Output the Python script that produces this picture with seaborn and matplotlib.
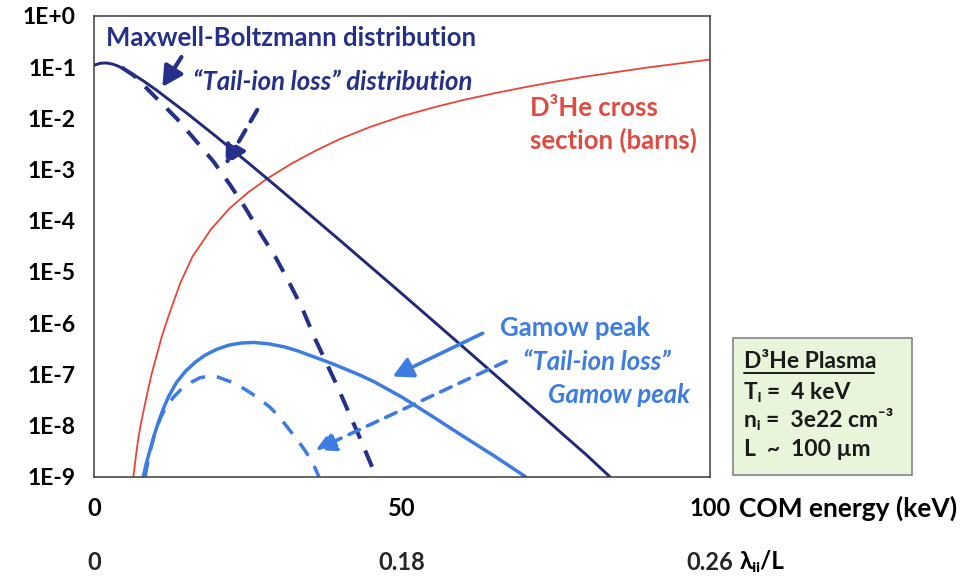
import matplotlib
matplotlib.use("Agg")
import matplotlib.pyplot as plt
from matplotlib.patches import Rectangle
from matplotlib.lines import Line2D
from matplotlib.ticker import FixedLocator, NullLocator
import seaborn as sns

# ---- curves: centre-of-mass energy (keV) and value -------------------------
mb_energy = [0.1, 1, 2, 3, 4, 6, 8, 10, 15, 20, 25, 30, 40, 50, 60, 70, 80, 83.7]
mb_value = [0.110, 0.119, 0.121, 0.115, 0.104, 0.0771, 0.0540, 0.0366, 0.0128,
            4.25e-3, 1.36e-3, 4.27e-4, 4.05e-5, 3.72e-6, 3.34e-7, 2.96e-8,
            2.60e-9, 1.0e-9]

tail_energy = [4.5, 5, 6.5, 8.8, 11, 13.4, 16.4, 19.4, 22.1, 24.6, 27, 29.4,
               31.6, 33.8, 35.7, 39.5, 43.3, 45.8]
tail_value = [0.099, 0.090, 0.068, 0.036, 0.0195, 0.0100, 3.8e-3, 1.43e-3,
              5.0e-4, 1.75e-4, 5.7e-5, 2.0e-5, 6.5e-6, 1.95e-6, 5.5e-7, 5.8e-8,
              5.2e-9, 1.0e-9]

xsec_energy = [6.4, 6.8, 7.2, 7.6, 8.5, 9.3, 10.2, 11, 12, 14, 16, 19, 22, 25,
               28, 32, 36, 40, 45, 50, 55, 60, 65, 70, 75, 80, 90, 100]
xsec_value = [1.0e-9, 2.5e-9, 5.6e-9, 1.05e-8, 3.5e-8, 9.5e-8, 2.4e-7, 5.4e-7,
              1.26e-6, 6.0e-6, 2.0e-5, 6.8e-5, 1.74e-4, 3.55e-4, 6.5e-4,
              1.29e-3, 2.34e-3, 3.98e-3, 6.9e-3, 1.10e-2, 1.62e-2, 2.29e-2,
              3.09e-2, 4.07e-2, 5.25e-2, 6.6e-2, 9.9e-2, 0.141]

gamow_energy = [8.0, 8.5, 9.1, 9.7, 10.4, 11.2, 12.1, 13.4, 14.8, 16.4, 18, 20,
                22, 24, 26, 28.5, 31, 33.2, 35, 37, 39, 41, 43.2, 45.5, 50, 55,
                60, 65, 70]
gamow_value = [1.0e-9, 1.82e-9, 3.31e-9, 6.03e-9, 1.10e-8, 2.04e-8, 3.63e-8,
               6.92e-8, 1.12e-7, 1.70e-7, 2.34e-7, 3.09e-7, 3.72e-7, 4.07e-7,
               4.17e-7, 3.89e-7, 3.39e-7, 2.82e-7, 2.34e-7, 1.91e-7, 1.55e-7,
               1.23e-7, 9.55e-8, 7.08e-8, 3.55e-8, 1.48e-8, 6.03e-9, 2.51e-9,
               1.0e-9]

tail_gamow_energy = [8.3, 9.0, 9.9, 10.8, 11.8, 12.9, 14.2, 15.9, 17.2, 18.6,
                     20.2, 22.2, 24.3, 26.5, 28.6, 30.2, 31.6, 33.0, 34.3, 35.5,
                     36.5]
tail_gamow_value = [1.0e-9, 2.82e-9, 7.08e-9, 1.41e-8, 2.40e-8, 3.55e-8,
                    5.13e-8, 7.08e-8, 8.51e-8, 9.12e-8, 8.71e-8, 7.08e-8,
                    5.25e-8, 3.55e-8, 2.24e-8, 1.41e-8, 8.51e-9, 5.25e-9,
                    3.16e-9, 1.86e-9, 1.0e-9]

# ---- axis ticks -------------------------------------------------------------
y_ticks = [1e0, 1e-1, 1e-2, 1e-3, 1e-4, 1e-5, 1e-6, 1e-7, 1e-8, 1e-9]
y_tick_labels = ["1E+0", "1E-1", "1E-2", "1E-3", "1E-4", "1E-5", "1E-6",
                 "1E-7", "1E-8", "1E-9"]
x_ticks = [0, 50, 100]
x_tick_labels = ["0", "50", "100"]
x_minor_ticks = [10, 20, 30, 40, 60, 70, 80, 90]
lambda_tick_labels = ["0", "0.18", "0.26"]

NAVY = "#25308a"
NAVY_LINE = "#222a78"
BLUE = "#3d7ce0"
RED = "#e8443a"
RED_TEXT = "#e04a40"
FRAME = "#3a3a3a"

sns.set_theme(style="white")
plt.rcParams["font.family"] = ["Lato", "DejaVu Sans"]
plt.rcParams["font.weight"] = "bold"

W, H = 964, 580
fig = plt.figure(figsize=(W / 100, H / 100), dpi=100)
fig.patch.set_facecolor("white")
TOP, BOTTOM, LEFT, RIGHT = 16, 476.5, 94, 710
ax = fig.add_axes([LEFT / W, 1 - BOTTOM / H, (RIGHT - LEFT) / W, (BOTTOM - TOP) / H])
ax.set_facecolor("white")


def fx(x):
    return x / W


def fy(y):
    return 1 - y / H


dash_navy = (0, (4.4, 3.2))
dash_blue = (0, (4.4, 3.4))

sns.lineplot(x=xsec_energy, y=xsec_value, ax=ax, color=RED, lw=1.3,
             estimator=None, sort=False)
sns.lineplot(x=mb_energy, y=mb_value, ax=ax, color=NAVY_LINE, lw=2.1,
             estimator=None, sort=False)
sns.lineplot(x=tail_energy, y=tail_value, ax=ax, color=NAVY, lw=2.9,
             linestyle=dash_navy, estimator=None, sort=False)
sns.lineplot(x=gamow_energy, y=gamow_value, ax=ax, color=BLUE, lw=2.5,
             estimator=None, sort=False)
sns.lineplot(x=tail_gamow_energy, y=tail_gamow_value, ax=ax, color=BLUE, lw=2.5,
             linestyle=dash_blue, estimator=None, sort=False)

ax.set_yscale("log")
ax.set_ylim(1e-9, 1)
ax.set_xlim(0, 100)
ax.set_xlabel("")
ax.set_ylabel("")

ax.yaxis.set_major_locator(FixedLocator(y_ticks))
ax.yaxis.set_minor_locator(NullLocator())
ax.set_yticklabels(y_tick_labels)
ax.xaxis.set_major_locator(FixedLocator(x_ticks))
ax.xaxis.set_minor_locator(FixedLocator(x_minor_ticks))
ax.set_xticklabels(x_tick_labels)

for s in ax.spines.values():
    s.set_visible(True)
    s.set_color(FRAME)
    s.set_linewidth(1.1)

ax.tick_params(axis="y", which="major", direction="out", length=6, width=1.1,
               color=FRAME, pad=7, labelsize=16.5, labelcolor="black")
ax.tick_params(axis="x", which="major", direction="inout", length=10, width=1.1,
               color=FRAME, pad=9.5, labelsize=17, labelcolor="black")
ax.tick_params(axis="x", which="minor", direction="in", length=5, width=1.1,
               color=FRAME)
for lab in ax.get_xticklabels() + ax.get_yticklabels():
    lab.set_fontweight("bold")

# second row of x labels: lambda_ii / L at the same energies
sec = ax.secondary_xaxis(location=-(551 - BOTTOM) / (BOTTOM - TOP))
sec.set_xticks(x_ticks)
sec.set_xticklabels(lambda_tick_labels)
sec.spines["bottom"].set_visible(False)
sec.tick_params(axis="x", length=0, pad=0, labelsize=17)
for lab in sec.get_xticklabels():
    lab.set_fontweight("bold")

fig.text(fx(739), fy(508), "COM energy (keV)", fontsize=19, fontweight="bold",
         ha="left", va="center", color="black")
fig.text(fx(740), fy(562), "λᵢᵢ/L", fontsize=17.5, fontweight="bold",
         ha="left", va="center", color="black")

# ---- curve annotations -------------------------------------------------------
LBL = 18.5
fig.text(fx(106), fy(38), "Maxwell-Boltzmann distribution", fontsize=LBL,
         fontweight="bold", color=NAVY, ha="left", va="center")
fig.text(fx(193), fy(82), "\u201cTail-ion loss\u201d distribution", fontsize=LBL,
         fontweight="bold", fontstyle="italic", color=NAVY, ha="left", va="center")
fig.text(fx(530), fy(108), "D³He cross", fontsize=LBL, fontweight="bold",
         color=RED_TEXT, ha="left", va="center")
fig.text(fx(530), fy(140), "section (barns)", fontsize=LBL, fontweight="bold",
         color=RED_TEXT, ha="left", va="center")
fig.text(fx(500), fy(328), "Gamow peak", fontsize=LBL, fontweight="bold",
         color=BLUE, ha="left", va="center")
fig.text(fx(523), fy(362), "\u201cTail-ion loss\u201d", fontsize=LBL,
         fontweight="bold", fontstyle="italic", color=BLUE, ha="left", va="center")
fig.text(fx(548), fy(395), "Gamow peak", fontsize=LBL, fontweight="bold",
         fontstyle="italic", color=BLUE, ha="left", va="center")

solid_head = "-|>,head_length=0.6,head_width=0.32"
ax.annotate("", xy=(11.1, 0.041), xytext=(14.2, 0.158),
            arrowprops=dict(arrowstyle=solid_head, color=NAVY, lw=3.0,
                            shrinkA=0, shrinkB=0, mutation_scale=20))
ax.annotate("", xy=(21.3, 1.23e-3), xytext=(26.5, 1.46e-2),
            arrowprops=dict(arrowstyle=solid_head, color=NAVY, lw=3.0,
                            linestyle=(0, (3.2, 2.4)), shrinkA=0, shrinkB=0,
                            mutation_scale=20))
ax.annotate("", xy=(48.5, 9.0e-8), xytext=(63.1, 6.3e-7),
            arrowprops=dict(arrowstyle=solid_head, color=BLUE, lw=2.6,
                            shrinkA=0, shrinkB=0, mutation_scale=20))
ax.annotate("", xy=(36.0, 3.3e-9), xytext=(66.9, 1.78e-7),
            arrowprops=dict(arrowstyle=solid_head, color=BLUE, lw=2.6,
                            linestyle=(0, (3.2, 2.4)), shrinkA=0, shrinkB=0,
                            mutation_scale=20))

# ---- plasma parameter box ----------------------------------------------------
fig.add_artist(Rectangle((fx(733), fy(475)), (912 - 733) / W, (475 - 338) / H,
                         transform=fig.transFigure, facecolor="#e8f5da",
                         edgecolor="#8c8c8c", lw=1.3))
box_lines = ["D³He Plasma", "Tᵢ =  4 keV", "nᵢ =  3e22 cm⁻³", "L  ~  100 µm"]
box_y = [361, 392, 420, 449]
for txt, yy in zip(box_lines, box_y):
    fig.text(fx(744), fy(yy), txt, fontsize=16.5, fontweight="bold",
             color="#1a1a1a", ha="left", va="center")
fig.add_artist(Line2D([fx(744), fx(874)], [fy(373), fy(373)],
                      transform=fig.transFigure, color="#1a1a1a", lw=1.4))

fig.savefig("out.png", dpi=100, facecolor="white")
